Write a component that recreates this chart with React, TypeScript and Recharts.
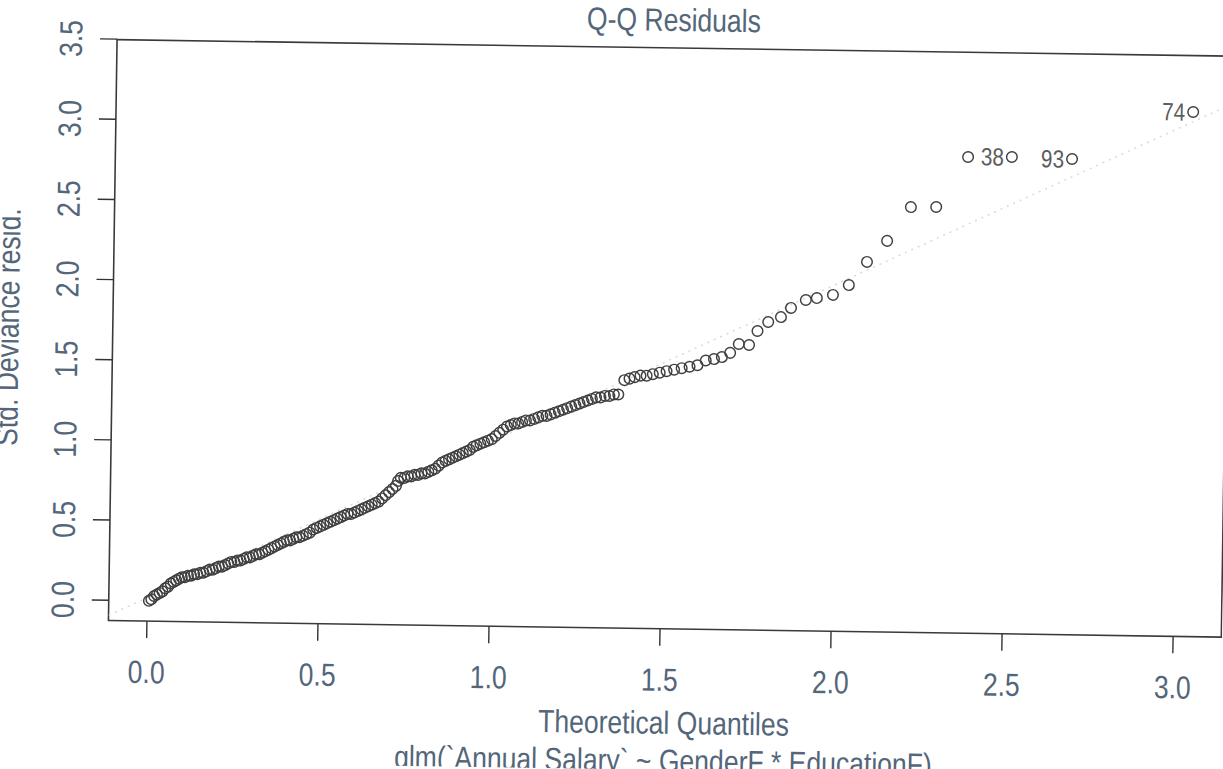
import { ScatterChart, Scatter, XAxis, YAxis, ReferenceLine, ReferenceArea, Label } from "recharts"

// theoretical quantiles (x) and std. deviance residuals (y)
const quantiles = [
  0.005, 0.012, 0.02, 0.028, 0.036, 0.044, 0.052, 0.06, 0.068, 0.076, 0.084, 0.092, 0.1,
  0.109, 0.118, 0.127, 0.136, 0.145, 0.154, 0.163, 0.172, 0.181, 0.19, 0.199, 0.208, 0.217, 0.226, 0.235, 0.244,
  0.253, 0.262, 0.271, 0.28, 0.289, 0.298, 0.307, 0.316, 0.325, 0.334, 0.343, 0.352, 0.361, 0.37, 0.379, 0.388,
  0.397, 0.406, 0.415, 0.424, 0.433, 0.442,
  0.452, 0.462, 0.472, 0.482, 0.492, 0.502, 0.512, 0.522, 0.532, 0.542, 0.552, 0.562, 0.572, 0.582, 0.592,
  0.602, 0.612, 0.622, 0.632, 0.642, 0.652, 0.662, 0.672, 0.682, 0.692, 0.702, 0.712,
  0.722, 0.728, 0.736, 0.746, 0.756, 0.766, 0.776, 0.786, 0.796, 0.806, 0.816, 0.826, 0.836, 0.846, 0.856,
  0.866, 0.876, 0.886, 0.896, 0.906, 0.916, 0.926, 0.936, 0.946, 0.956,
  0.967, 0.978, 0.989, 1.0, 1.011, 1.022, 1.033, 1.044, 1.055, 1.066, 1.077, 1.088, 1.099,
  1.111, 1.123, 1.135, 1.147, 1.159, 1.171, 1.183, 1.195, 1.207, 1.219, 1.231, 1.243, 1.255, 1.267, 1.279,
  1.291, 1.303, 1.316, 1.329, 1.342, 1.355, 1.368,
  1.385, 1.4, 1.415, 1.432, 1.45, 1.468, 1.488, 1.508, 1.53, 1.552, 1.575, 1.598, 1.622, 1.646,
  1.669, 1.693, 1.718, 1.748, 1.772, 1.803, 1.84, 1.869, 1.912, 1.944, 1.991, 2.037, 2.089, 2.147,
  2.215, 2.289, 2.38, 2.508, 2.684, 3.036,
]

const residuals = [
  0.0, 0.01, 0.03, 0.04, 0.05, 0.06, 0.08, 0.09, 0.11, 0.12, 0.13, 0.14, 0.15,
  0.15, 0.16, 0.16, 0.17, 0.17, 0.18, 0.18, 0.19, 0.2, 0.2, 0.21, 0.22, 0.22, 0.23, 0.24, 0.25,
  0.25, 0.26, 0.26, 0.27, 0.28, 0.28, 0.29, 0.3, 0.3, 0.31, 0.32, 0.33, 0.34, 0.35, 0.36, 0.37,
  0.38, 0.39, 0.39, 0.4, 0.41, 0.41,
  0.42, 0.43, 0.44, 0.46, 0.47, 0.48, 0.49, 0.5, 0.51, 0.52, 0.53, 0.54, 0.55, 0.56, 0.56,
  0.57, 0.58, 0.59, 0.6, 0.61, 0.62, 0.63, 0.64, 0.66, 0.68, 0.7, 0.72,
  0.74, 0.77, 0.79, 0.79, 0.8, 0.8, 0.81, 0.81, 0.82, 0.82, 0.83, 0.84, 0.85, 0.87, 0.89,
  0.9, 0.91, 0.92, 0.93, 0.94, 0.95, 0.96, 0.97, 0.99, 1.0,
  1.01, 1.02, 1.03, 1.04, 1.06, 1.08, 1.1, 1.12, 1.13, 1.14, 1.14, 1.15, 1.16,
  1.16, 1.17, 1.18, 1.19, 1.19, 1.2, 1.21, 1.22, 1.23, 1.24, 1.25, 1.26, 1.27, 1.28, 1.29,
  1.3, 1.31, 1.31, 1.32, 1.32, 1.33, 1.33,
  1.42, 1.43, 1.44, 1.45, 1.45, 1.46, 1.47, 1.48, 1.49, 1.5, 1.51, 1.52, 1.55, 1.56,
  1.573, 1.6, 1.656, 1.651, 1.739, 1.796, 1.828, 1.886, 1.937, 1.95, 1.971, 2.034, 2.18, 2.313,
  2.526, 2.529, 2.844, 2.848, 2.841, 3.145,
]

const labeledQuantiles = [2.508, 2.684, 3.036]
const labeledNames = ["38", "93", "74"]

const xTicks = [0, 0.5, 1, 1.5, 2, 2.5, 3]
const yTicks = [0, 0.5, 1, 1.5, 2, 2.5, 3, 3.5]
const xDomain = [-0.1125, 3.141]
const yDomain = [-0.127, 3.497]

// dotted qq reference line
const qqLineX = [-0.1125, 3.141]
const qqLineY = [-0.094, 3.19]

const FONT = "'Liberation Sans', Arial, sans-serif"
const TEXT = "#53667a"
// the scanned plot uses a condensed face; squeeze the glyphs sideways
const SQUEEZE = 0.83

function NText({ x, y, rotate = 0, size = 32, anchor = "middle", fill = TEXT, baseline, children }: any) {
  return (
    <text
      transform={`translate(${x},${y}) rotate(${rotate}) scale(${SQUEEZE},1)`}
      x={0}
      y={0}
      textAnchor={anchor}
      dominantBaseline={baseline}
      fontSize={size}
      fontFamily={FONT}
      fill={fill}
    >
      {children}
    </text>
  )
}

const points = quantiles.map((q, i) => {
  const k = labeledQuantiles.indexOf(q)
  return { q, r: residuals[i], name: k >= 0 ? labeledNames[k] : "" }
})

function OpenCircle(props: any) {
  const { cx, cy, payload } = props
  return (
    <g>
      <circle cx={cx} cy={cy} r={5.3} fill="none" stroke="#3f3f3f" strokeWidth={1.45} />
      {payload.name ? (
        <NText x={cx - 8} y={cy} size={25} anchor="end" baseline="central" fill="#5c5c5c">
          {payload.name}
        </NText>
      ) : null}
    </g>
  )
}

function XTick(props: any) {
  const { x, y, payload } = props
  return <NText x={x} y={y + 23}>{Number(payload.value).toFixed(1)}</NText>
}

function YTick(props: any) {
  const { x, y, payload } = props
  return (
    <NText x={x - 16} y={y} rotate={-90}>
      {Number(payload.value).toFixed(1)}
    </NText>
  )
}

function Titles(props: any) {
  const vb = props.viewBox
  const cx = vb.x + vb.width / 2
  return (
    <g>
      <NText x={cx} y={30}>Q-Q Residuals</NText>
      <NText x={cx} y={733}>Theoretical Quantiles</NText>
      <NText x={cx} y={771}>glm(`Annual Salary` ~ GenderF * EducationF)</NText>
    </g>
  )
}

function YTitle() {
  return (
    <NText x={18} y={336} rotate={-90}>
      Std. Deviance resid.
    </NText>
  )
}

export default function App() {
  return (
    <div
      style={{
        position: "absolute",
        left: 0,
        top: 0,
        width: 1223,
        height: 769,
        background: "#fff",
        transform: "rotate(0.85deg)",
        transformOrigin: "611.5px 384.5px",
      }}
    >
      <ScatterChart
        width={1226}
        height={769}
        margin={{ top: 47, right: 1, bottom: 0, left: 0 }}
        style={{ overflow: "visible" }}
      >
        <XAxis
          type="number"
          dataKey="q"
          domain={xDomain}
          ticks={xTicks}
          allowDataOverflow
          height={141}
          axisLine={false}
          tickLine={{ stroke: "#333", strokeWidth: 1.4 }}
          tickSize={17}
          tickMargin={22}
          tick={XTick}
        >
          <Label content={Titles} />
        </XAxis>
        <YAxis
          type="number"
          dataKey="r"
          domain={yDomain}
          ticks={yTicks}
          allowDataOverflow
          width={112}
          axisLine={false}
          tickLine={{ stroke: "#333", strokeWidth: 1.4 }}
          tickSize={17}
          tickMargin={2}
          tick={YTick}
        >
          <Label content={YTitle} />
        </YAxis>
        <ReferenceArea
          x1={xDomain[0]}
          x2={xDomain[1]}
          y1={yDomain[0]}
          y2={yDomain[1]}
          fill="none"
          stroke="#3a3a3a"
          strokeWidth={1.6}
          ifOverflow="visible"
        />
        <ReferenceLine
          segment={[
            { x: qqLineX[0], y: qqLineY[0] },
            { x: qqLineX[1], y: qqLineY[1] },
          ]}
          stroke="#dadada"
          strokeWidth={1.5}
          strokeDasharray="2 5"
          ifOverflow="hidden"
        />
        <Scatter data={points} shape={OpenCircle} isAnimationActive={false} />
      </ScatterChart>
    </div>
  )
}
